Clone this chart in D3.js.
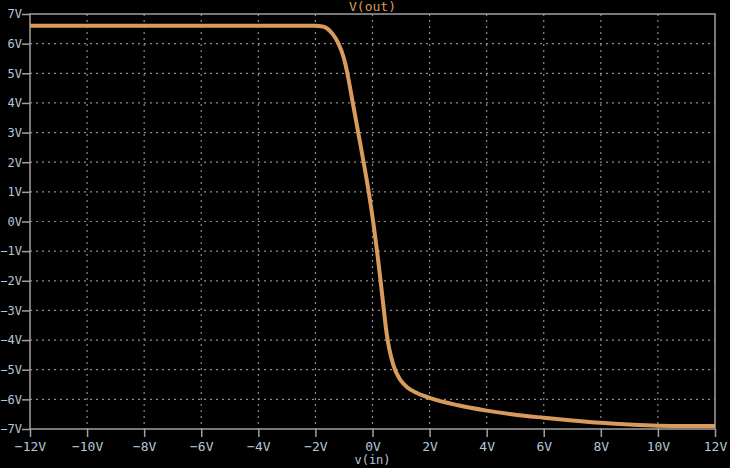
<!DOCTYPE html>
<html>
<head>
<meta charset="utf-8">
<script src="https://cdn.jsdelivr.net/npm/d3@7"></script>
<style>
  body { margin: 0; background: #000; }
  svg { display: block; }
</style>
</head>
<body>
<div id="chart-area"></div>
<script>
// transfer curve
var vin  = [-12, -4, -2, -1.8, -1.6, -1.4, -1.2, -1.0, -0.88, -0.7, -0.5, -0.3, -0.12, 0.03, 0.16, 0.28, 0.4, 0.48, 0.54, 0.66, 0.79, 0.9, 1.0, 1.2, 1.5, 2, 3, 4, 5, 6, 7, 8, 9, 10, 11, 12];
var vout = [6.6, 6.6, 6.6, 6.59, 6.52, 6.33, 6.02, 5.5, 5.0, 4.05, 3.0, 1.94, 0.92, -0.05, -1.0, -1.98, -3.0, -3.66, -4.05, -4.6, -5.0, -5.22, -5.38, -5.58, -5.76, -5.95, -6.2, -6.38, -6.52, -6.62, -6.71, -6.79, -6.85, -6.89, -6.9, -6.9];
var xTicks = [-12, -10, -8, -6, -4, -2, 0, 2, 4, 6, 8, 10, 12];
var yTicks = [7, 6, 5, 4, 3, 2, 1, 0, -1, -2, -3, -4, -5, -6, -7];

var margin = {left: 30, right: 15, top: 14, bottom: 39};
var width = 730 - margin.left - margin.right;
var height = 468 - margin.top - margin.bottom;

var svg = d3.select("#chart-area")
  .append("svg")
  .attr("width", 730)
  .attr("height", 468)
  .style("background", "#000");

var g = svg.append("g")
  .attr("transform", "translate(" + margin.left + "," + margin.top + ")");

var x = d3.scaleLinear().domain([-12, 12]).range([0, width]);
var y = d3.scaleLinear().domain([-7, 7]).range([height, 0]);

var fmt = function(d) { return (d < 0 ? "\u2212" + Math.abs(d) : d) + "V"; };
var font = "'DejaVu Sans Mono', monospace";

// grid
g.append("g").selectAll("line").data(xTicks.slice(1, -1)).enter().append("line")
  .attr("x1", d => x(d)).attr("x2", d => x(d))
  .attr("y1", 0).attr("y2", height)
  .attr("stroke", "#8c8c8c").attr("stroke-width", 1.2)
  .attr("stroke-dasharray", "2,4");
g.append("g").selectAll("line").data(yTicks.slice(1, -1)).enter().append("line")
  .attr("x1", 0).attr("x2", width)
  .attr("y1", d => y(d)).attr("y2", d => y(d))
  .attr("stroke", "#8c8c8c").attr("stroke-width", 1.2)
  .attr("stroke-dasharray", "2,4");

// axes
var xAxisCall = d3.axisBottom(x).tickValues(xTicks).tickSize(8).tickPadding(5).tickFormat(fmt);
var xAx = g.append("g")
  .attr("transform", "translate(0," + height + ")")
  .call(xAxisCall);
var yAxisCall = d3.axisLeft(y).tickValues(yTicks).tickSize(8).tickPadding(0).tickFormat(fmt);
var yAx = g.append("g").call(yAxisCall);

[xAx, yAx].forEach(function(ax) {
  ax.select(".domain").remove();
  ax.selectAll(".tick line").attr("stroke", "#a0a0a0").attr("stroke-width", 1.5);
  ax.selectAll(".tick text")
    .attr("fill", "#b4c6da")
    .style("font-family", font)
    .style("font-size", "13px");
});
yAx.selectAll(".tick text").style("font-size", "12px");

// frame
g.append("rect")
  .attr("x", 0).attr("y", 0)
  .attr("width", width).attr("height", height)
  .attr("fill", "none")
  .attr("stroke", "#a0a0a0")
  .attr("stroke-width", 1.5);

// curve
var pts = vin.map((d, i) => [d, vout[i]]);
var line = d3.line()
  .x(d => x(d[0]))
  .y(d => y(d[1]))
  .curve(d3.curveMonotoneX);

g.append("path")
  .datum(pts)
  .attr("d", line)
  .attr("fill", "none")
  .attr("stroke", "#d89b5b")
  .attr("stroke-width", 4)
  .attr("stroke-linejoin", "round");

// labels
svg.append("text")
  .attr("x", margin.left + x(0))
  .attr("y", 11)
  .attr("text-anchor", "middle")
  .attr("fill", "#d89b5b")
  .style("font-family", font)
  .style("font-size", "13px")
  .text("V(out)");

svg.append("text")
  .attr("x", margin.left + x(0))
  .attr("y", 464)
  .attr("text-anchor", "middle")
  .attr("fill", "#b4c6da")
  .style("font-family", font)
  .style("font-size", "12px")
  .text("v(in)");
</script>
</body>
</html>
